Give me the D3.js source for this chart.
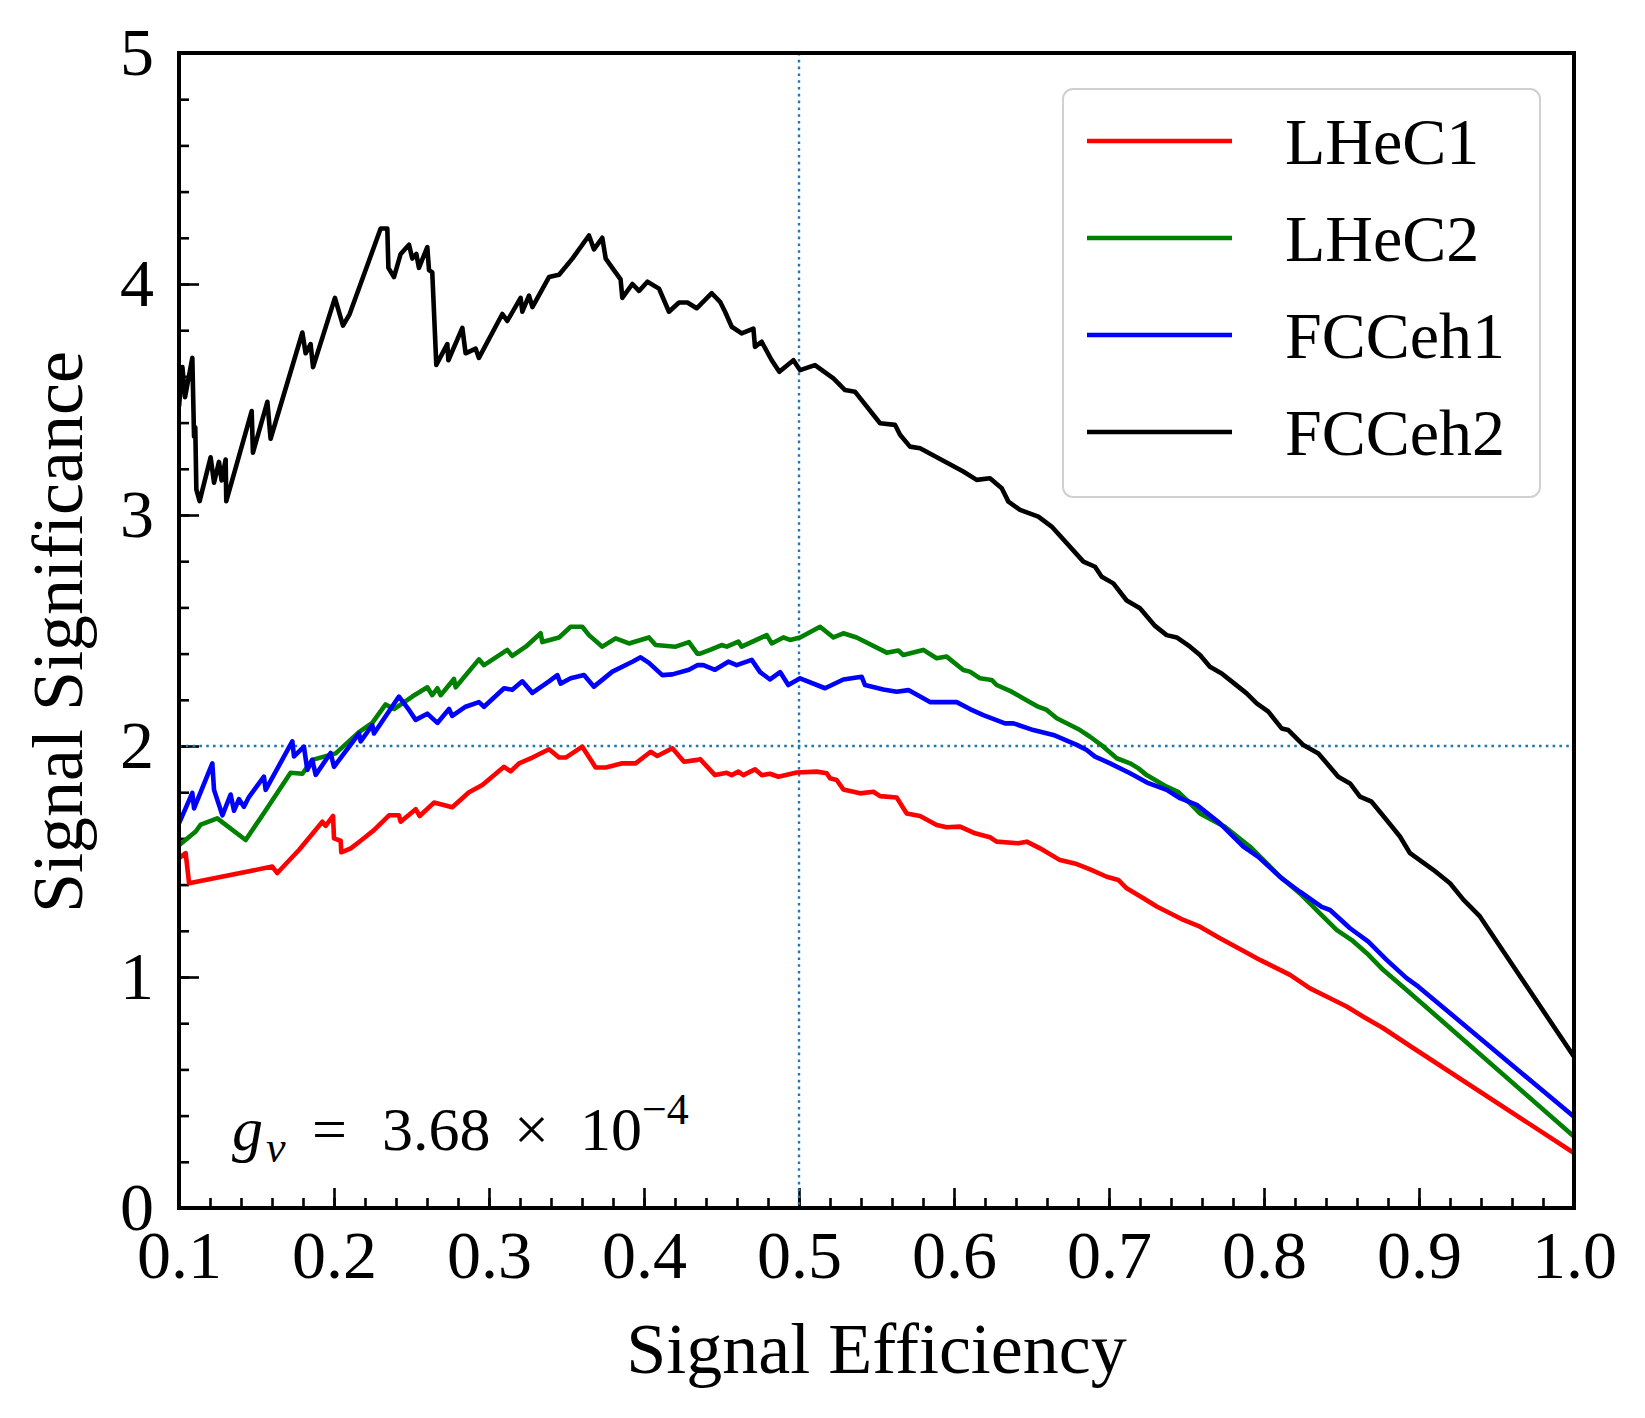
<!DOCTYPE html>
<html>
<head>
<meta charset="utf-8">
<script src="https://cdn.jsdelivr.net/npm/d3@7"></script>
<style>
  body { margin: 0; background: #fff; }
  text { font-family: "Liberation Serif", "DejaVu Serif", serif; fill: #000; }
</style>
</head>
<body>
<script>
// values
var seriesNames = ["LHeC1", "LHeC2", "FCCeh1", "FCCeh2"];
var seriesColors = ["#ff0000", "#008000", "#0000ff", "#000000"];

var lhec1 = [[0.1,1.514],[0.1043,1.536],[0.1065,1.406],[0.1602,1.478],[0.1634,1.45],[0.1774,1.55],[0.1925,1.672],[0.1946,1.654],[0.1994,1.697],[0.2,1.60],[0.2043,1.59],[0.2047,1.54],[0.2108,1.557],[0.2172,1.59],[0.2258,1.636],[0.2355,1.70],[0.2419,1.70],[0.243,1.672],[0.2527,1.726],[0.2553,1.697],[0.2645,1.755],[0.2763,1.735],[0.2871,1.80],[0.2957,1.831],[0.3097,1.91],[0.314,1.89],[0.3194,1.925],[0.328,1.95],[0.3387,1.986],[0.3452,1.95],[0.3495,1.95],[0.3602,1.997],[0.3688,1.907],[0.3753,1.907],[0.386,1.925],[0.3946,1.925],[0.4043,1.975],[0.4086,1.957],[0.4183,1.99],[0.4258,1.932],[0.4344,1.94],
  [0.4362,1.943],[0.4458,1.874],[0.4534,1.884],[0.4566,1.874],[0.4609,1.889],[0.4641,1.874],[0.4716,1.899],[0.4759,1.874],[0.4813,1.88],[0.4867,1.867],[0.4985,1.885],[0.5114,1.889],[0.5179,1.882],[0.52,1.86],[0.5243,1.853],[0.5286,1.812],[0.5394,1.795],[0.548,1.802],[0.5523,1.783],[0.563,1.777],[0.5695,1.708],[0.5781,1.697],[0.5888,1.658],[0.5953,1.648],[0.6039,1.651],[0.6136,1.622],[0.6232,1.605],[0.6275,1.586],[0.6415,1.579],[0.6469,1.586],[0.6555,1.557],[0.6684,1.506],[0.6792,1.489],[0.6878,1.466],[0.6985,1.434],[0.706,1.42],[0.7114,1.384],[0.7222,1.341],[0.7308,1.305],[0.7394,1.276],[0.748,1.247],
  [0.7587,1.218],[0.7716,1.168],[0.7856,1.117],[0.7974,1.074],[0.8168,1.009],[0.8297,0.951],[0.8426,0.908],[0.8533,0.872],[0.8641,0.828],[0.877,0.778],[0.895,0.698],[1.0,0.238]];

var lhec2 = [[0.1,1.571],[0.1108,1.63],[0.114,1.66],[0.1247,1.687],[0.143,1.593],[0.1548,1.71],[0.172,1.884],[0.1796,1.88],[0.186,1.94],[0.2011,1.968],[0.2161,2.06],[0.2247,2.10],[0.2333,2.18],[0.2387,2.16],[0.2505,2.214],[0.2602,2.254],[0.2634,2.22],[0.2667,2.25],[0.2688,2.22],[0.2774,2.29],[0.2785,2.254],[0.2935,2.375],[0.2968,2.35],[0.3118,2.416],[0.315,2.39],[0.3237,2.43],[0.3333,2.488],[0.3344,2.45],[0.3452,2.47],[0.3527,2.516],[0.3602,2.516],[0.3645,2.48],[0.3731,2.43],[0.3817,2.466],[0.3903,2.444],[0.4032,2.47],[0.4075,2.437],[0.4204,2.43],[0.429,2.45],[0.4344,2.40],
  [0.4362,2.40],[0.4426,2.416],[0.4501,2.437],[0.4534,2.43],[0.4609,2.452],[0.463,2.43],[0.4792,2.48],[0.4824,2.444],[0.4899,2.47],[0.4942,2.459],[0.5007,2.47],[0.5136,2.516],[0.5222,2.47],[0.5286,2.488],[0.5372,2.47],[0.5566,2.404],[0.5641,2.413],[0.5673,2.394],[0.5802,2.416],[0.5888,2.38],[0.5953,2.387],[0.606,2.329],[0.6103,2.322],[0.6168,2.293],[0.6243,2.286],[0.6275,2.264],[0.6372,2.235],[0.6448,2.206],[0.6534,2.173],[0.6598,2.156],[0.6663,2.12],[0.6813,2.069],[0.6878,2.04],[0.6964,1.997],[0.705,1.947],[0.7136,1.925],[0.719,1.903],[0.7243,1.874],[0.7372,1.824],[0.7448,1.80],[0.7523,1.752],
  [0.7587,1.708],[0.7748,1.65],[0.791,1.564],[0.8103,1.435],[0.8232,1.362],[0.8372,1.268],[0.847,1.203],[0.8566,1.16],[0.8663,1.103],[0.877,1.03],[0.892,0.944],[1.0,0.309]];

var fcceh1 = [[0.1,1.665],[0.1086,1.797],[0.1097,1.73],[0.1215,1.925],[0.1226,1.81],[0.128,1.70],[0.1333,1.79],[0.1355,1.72],[0.1387,1.77],[0.1419,1.737],[0.1452,1.78],[0.1548,1.867],[0.1559,1.81],[0.1731,2.02],[0.1742,1.955],[0.1806,1.997],[0.1828,1.896],[0.186,1.94],[0.1882,1.875],[0.1978,1.97],[0.2,1.91],[0.2161,2.054],[0.2172,2.02],[0.2247,2.09],[0.2258,2.054],[0.2419,2.214],[0.2484,2.156],[0.2527,2.113],[0.2602,2.14],[0.2667,2.10],[0.2742,2.16],[0.2763,2.13],[0.2849,2.17],[0.2935,2.19],[0.2968,2.17],[0.3097,2.25],[0.315,2.243],[0.3215,2.28],[0.328,2.23],[0.3387,2.28],[0.3441,2.307],[0.3462,2.27],[0.3527,2.293],[0.3613,2.307],[0.3677,2.257],[0.3796,2.322],[0.3925,2.365],[0.3978,2.384],[0.4032,2.36],[0.4118,2.307],[0.4183,2.31],[0.429,2.33],[0.4344,2.35],
  [0.4383,2.35],[0.4458,2.33],[0.4544,2.365],[0.4598,2.35],[0.4695,2.373],[0.4749,2.32],[0.4813,2.288],[0.4878,2.32],[0.4931,2.264],[0.5007,2.293],[0.5168,2.25],[0.5286,2.288],[0.5404,2.30],[0.5426,2.264],[0.5544,2.245],[0.563,2.235],[0.5706,2.242],[0.5845,2.19],[0.6017,2.19],[0.6103,2.16],[0.6189,2.134],[0.6329,2.098],[0.6383,2.098],[0.6512,2.069],[0.6641,2.048],[0.6792,2.005],[0.6856,1.983],[0.691,1.954],[0.7007,1.925],[0.7136,1.882],[0.7254,1.839],[0.7372,1.81],[0.7458,1.774],[0.7566,1.745],
  [0.7716,1.665],[0.7867,1.564],[0.7963,1.52],[0.8114,1.427],[0.8232,1.369],[0.8372,1.304],[0.8426,1.29],[0.8555,1.211],[0.8673,1.153],[0.8791,1.074],[0.892,0.995],[0.8996,0.958],[1.0,0.395]];

var fcceh2 = [[0.1,3.47],[0.1022,3.64],[0.1039,3.51],[0.1086,3.68],[0.1097,3.34],[0.1105,3.38],[0.1112,3.11],[0.1133,3.06],[0.1204,3.25],[0.1226,3.14],[0.1258,3.23],[0.1275,3.15],[0.1301,3.24],[0.1305,3.06],[0.1469,3.45],[0.1477,3.27],[0.157,3.49],[0.1591,3.33],[0.1796,3.79],[0.1817,3.70],[0.1849,3.74],[0.1865,3.64],[0.2006,3.94],[0.2058,3.82],[0.2101,3.87],[0.2301,4.24],[0.2344,4.24],[0.2351,4.07],[0.2387,4.03],[0.243,4.13],[0.2484,4.17],[0.2505,4.11],[0.2531,4.13],[0.2548,4.07],[0.2602,4.16],[0.2613,4.06],[0.2634,4.05],[0.266,3.65],[0.2731,3.74],[0.2738,3.67],[0.2828,3.81],[0.2849,3.70],[0.2914,3.72],[0.2935,3.68],[0.3086,3.87],[0.3118,3.84],[0.3204,3.94],[0.3215,3.88],[0.3258,3.95],[0.328,3.90],[0.3387,4.03],[0.3452,4.04],[0.3538,4.11],[0.3645,4.21],[0.3677,4.15],[0.3731,4.20],[0.3753,4.11],[0.3806,4.06],[0.3849,4.02],[0.386,3.94],[0.3925,4.00],[0.3968,3.97],[0.4022,4.01],[0.4097,3.98],[0.4161,3.88],[0.4226,3.92],[0.428,3.92],[0.434,3.895],[0.4437,3.96],[0.4491,3.923],[0.4523,3.88],[0.4566,3.815],[0.463,3.786],[0.4706,3.807],[0.4716,3.728],[0.4759,3.75],[0.4824,3.67],[0.4873,3.62],[0.4964,3.67],[0.5007,3.627],[0.5103,3.649],[0.5222,3.591],[0.5297,3.541],[0.5361,3.534],[0.5523,3.397],[0.562,3.39],[0.5652,3.347],[0.5716,3.296],[0.5781,3.289],[0.606,3.188],[0.6146,3.152],[0.6232,3.159],[0.6308,3.116],[0.6351,3.058],[0.6426,3.022],[0.6544,2.993],[0.663,2.95],[0.6835,2.798],[0.691,2.776],[0.6953,2.733],[0.7028,2.704],[0.7114,2.63],[0.72,2.596],[0.7297,2.52],[0.7372,2.48],[0.7437,2.47],[0.7523,2.43],[0.7587,2.394],[0.7651,2.343],[0.7727,2.314],[0.7781,2.285],[0.7888,2.228],[0.7953,2.185],[0.8028,2.149],[0.8114,2.076],[0.8157,2.069],[0.8254,2.004],[0.8351,1.968],[0.8479,1.867],[0.8555,1.838],[0.8619,1.781],[0.8694,1.759],[0.8791,1.68],[0.8877,1.608],[0.8942,1.536],[0.9092,1.464],[0.92,1.406],[0.9286,1.335],[0.9393,1.262],[1.0,0.655]];

var seriesData = [lhec1, lhec2, fcceh1, fcceh2];

var xMajorTicks = [0.1, 0.2, 0.3, 0.4, 0.5, 0.6, 0.7, 0.8, 0.9, 1.0];
var yMajorTicks = [0, 1, 2, 3, 4, 5];
var refX = 0.5, refY = 2;

var width = 1645, height = 1418;
var plot = {left: 179, top: 53, right: 1574, bottom: 1208};

var svg = d3.select("body")
	.append("svg")
	.attr("width", width)
	.attr("height", height)
	.style("background", "#fff");

var x = d3.scaleLinear().domain([0.1, 1.0]).range([plot.left, plot.right]);
var y = d3.scaleLinear().domain([0, 5]).range([plot.bottom, plot.top]);

svg.append("clipPath").attr("id", "clip")
	.append("rect")
	.attr("x", plot.left).attr("y", plot.top)
	.attr("width", plot.right - plot.left)
	.attr("height", plot.bottom - plot.top);

// minor ticks
var xMinor = d3.range(0.1, 1.0001, 0.02).map(function(d) { return +d.toFixed(2); });
var yMinor = d3.range(0, 5.0001, 0.2).map(function(d) { return +d.toFixed(1); });

svg.append("g")
	.attr("class", "axis")
	.attr("transform", "translate(0," + plot.bottom + ")")
	.call(d3.axisBottom(x).tickValues(xMinor).tickSize(-10).tickFormat(""));

svg.append("g")
	.attr("class", "axis")
	.attr("transform", "translate(" + plot.left + ",0)")
	.call(d3.axisLeft(y).tickValues(yMinor).tickSize(-10).tickFormat(""));

// major ticks with labels
svg.append("g")
	.attr("class", "axis xmajor")
	.attr("transform", "translate(0," + plot.bottom + ")")
	.call(d3.axisBottom(x).tickValues(xMajorTicks).tickSize(-20).tickPadding(22)
		.tickFormat(d3.format(".1f")));

svg.append("g")
	.attr("class", "axis ymajor")
	.attr("transform", "translate(" + plot.left + ",0)")
	.call(d3.axisLeft(y).tickValues(yMajorTicks).tickSize(-20).tickPadding(25)
		.tickFormat(d3.format("d")));

svg.selectAll(".axis .domain").remove();
svg.selectAll(".axis line").attr("stroke", "#000").attr("stroke-width", 2.6);
svg.selectAll(".axis text")
	.style("font-family", "'Liberation Serif', 'DejaVu Serif', serif")
	.style("font-size", "68px")
	.attr("fill", "#000");

// reference lines
svg.append("line")
	.attr("x1", x(refX)).attr("x2", x(refX))
	.attr("y1", plot.top).attr("y2", plot.bottom)
	.attr("stroke", "#1f77b4").attr("stroke-width", 2.4)
	.attr("stroke-dasharray", "2.6,4.2");

svg.append("line")
	.attr("x1", plot.left).attr("x2", plot.right)
	.attr("y1", y(refY)).attr("y2", y(refY))
	.attr("stroke", "#1f77b4").attr("stroke-width", 2.4)
	.attr("stroke-dasharray", "2.6,4.2");

// curves
var line = d3.line()
	.x(function(d) { return x(d[0]); })
	.y(function(d) { return y(d[1]); });

for (i = 0; i < seriesData.length; i++) {
	svg.append("path")
		.datum(seriesData[i])
		.attr("clip-path", "url(#clip)")
		.attr("d", line)
		.attr("fill", "none")
		.attr("stroke", seriesColors[i])
		.attr("stroke-width", 4.6)
		.attr("stroke-linejoin", "round");
}

// frame
svg.append("rect")
	.attr("x", plot.left).attr("y", plot.top)
	.attr("width", plot.right - plot.left)
	.attr("height", plot.bottom - plot.top)
	.attr("fill", "none")
	.attr("stroke", "#000")
	.attr("stroke-width", 4);

// legend
var legend = svg.append("g");
legend.append("rect")
	.attr("x", 1063).attr("y", 89)
	.attr("width", 477).attr("height", 408)
	.attr("rx", 10).attr("ry", 10)
	.attr("fill", "#fff").attr("fill-opacity", 0.8)
	.attr("stroke", "#d0d0d0").attr("stroke-width", 2);

for (i = 0; i < seriesNames.length; i++) {
	var ly = 141 + i * 97;
	legend.append("line")
		.attr("x1", 1087).attr("x2", 1232)
		.attr("y1", ly).attr("y2", ly)
		.attr("stroke", seriesColors[i])
		.attr("stroke-width", 4.6);
	legend.append("text")
		.attr("x", 1285).attr("y", ly + 23)
		.style("font-size", "66px")
		.text(seriesNames[i]);
}

// axis titles
svg.append("text")
	.attr("x", (plot.left + plot.right) / 2)
	.attr("y", 1373)
	.attr("text-anchor", "middle")
	.style("font-size", "72px")
	.text("Signal Efficiency");

svg.append("text")
	.attr("transform", "translate(82," + 632 + ") rotate(-90)")
	.attr("text-anchor", "middle")
	.style("font-size", "72px")
	.text("Signal Significance");

// annotation g_v = 3.68 x 10^-4
var note = svg.append("g");
var base = 1150;
note.append("text").attr("x", 232).attr("y", base)
	.style("font-size", "62px").style("font-style", "italic").text("g");
note.append("text").attr("x", 266).attr("y", base + 12)
	.style("font-size", "44px").style("font-style", "italic").text("v");
note.append("text").attr("x", 312).attr("y", base)
	.style("font-size", "62px").text("=");
note.append("text").attr("x", 382).attr("y", base)
	.style("font-size", "62px").text("3.68");
note.append("text").attr("x", 514).attr("y", base)
	.style("font-size", "62px").text("\u00d7");
note.append("text").attr("x", 580).attr("y", base)
	.style("font-size", "62px").text("10");
note.append("text").attr("x", 642).attr("y", base - 26)
	.style("font-size", "44px").text("\u22124");
</script>
</body>
</html>
